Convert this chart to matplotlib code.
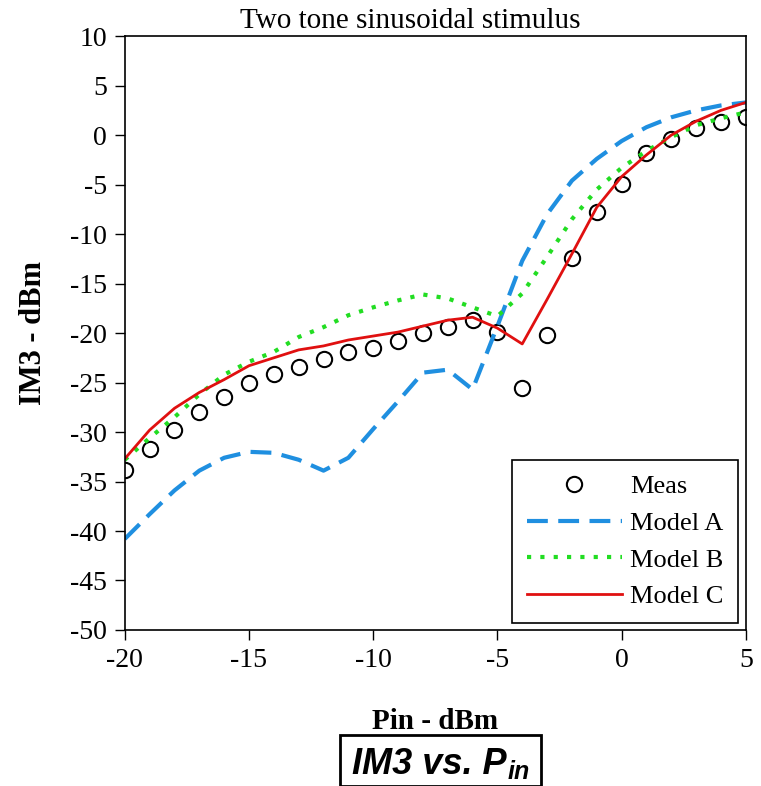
import numpy as np
import matplotlib
matplotlib.use("Agg")
import matplotlib.pyplot as plt

# Pin values (dBm)
pin = [-20, -19, -18, -17, -16, -15, -14, -13, -12, -11, -10, -9, -8,
       -7, -6, -5, -4, -3, -2, -1, 0, 1, 2, 3, 4, 5]

# measured IM3 (dBm)
meas = [-33.8, -31.7, -29.8, -28.0, -26.5, -25.0, -24.1, -23.4, -22.6, -21.9,
        -21.5, -20.8, -20.0, -19.4, -18.7, -19.9, -25.6, -20.2, -12.4, -7.8,
        -4.9, -1.8, -0.4, 0.7, 1.3, 1.8]

model_a = [-40.8, -38.3, -35.9, -33.9, -32.6, -32.0, -32.1, -32.8, -33.9, -32.6,
           -29.7, -26.9, -24.0, -23.7, -25.7, -19.3, -12.7, -8.0, -4.6, -2.4,
           -0.6, 0.8, 1.8, 2.5, 3.0, 3.3]

model_b = [-32.8, -30.6, -28.5, -26.2, -24.2, -22.9, -21.9, -20.4, -19.4, -18.2,
           -17.4, -16.7, -16.1, -16.5, -17.4, -18.3, -16.0, -12.3, -8.5, -5.5,
           -3.3, -1.6, -0.2, 1.0, 1.7, 2.3]

model_c = [-32.7, -29.8, -27.6, -26.0, -24.7, -23.3, -22.5, -21.7, -21.3, -20.7,
           -20.3, -19.9, -19.3, -18.7, -18.4, -19.5, -21.1, -16.6, -12.0, -7.3,
           -4.2, -2.0, 0.0, 1.4, 2.5, 3.3]

xticks = [-20, -15, -10, -5, 0, 5]
yticks = list(range(-50, 11, 5))

serif = ["Liberation Serif", "DejaVu Serif"]
sans = ["Liberation Sans Narrow", "Liberation Sans", "DejaVu Sans"]

fig = plt.figure(figsize=(7.61, 7.86), dpi=100)
ax = fig.add_axes([0.164, 0.1985, 0.816, 0.7555])

ax.plot(pin, meas, linestyle="none", marker="o", markersize=11,
        markerfacecolor="none", markeredgecolor="black", markeredgewidth=1.5,
        label="Meas")
ax.plot(pin, model_a, color="#1f8fe0", lw=3, dashes=(5, 2.5), label="Model A")
ax.plot(pin, model_b, color="#22dd22", lw=3, dashes=(1, 2.2), label="Model B")
ax.plot(pin, model_c, color="#e01010", lw=2, label="Model C")

ax.set_xlim(-20, 5)
ax.set_ylim(-50, 10)
ax.set_xticks(xticks)
ax.set_yticks(yticks)
ax.set_xticklabels([str(t) for t in xticks], family=serif, fontsize=20)
ax.set_yticklabels([str(t) for t in yticks], family=serif, fontsize=20)
ax.tick_params(direction="out", length=7, width=1, pad=6)
for sp in ax.spines.values():
    sp.set_linewidth(1.2)

ax.set_title("Two tone sinusoidal stimulus", family=serif, fontsize=21,
             x=0.46, pad=6)
ax.set_xlabel("Pin - dBm", family=serif, fontsize=21, fontweight="bold", labelpad=25)
ax.set_ylabel("IM3 - dBm", family=serif, fontsize=22, fontweight="bold", labelpad=16)

leg = ax.legend(loc="lower right", prop={"family": serif, "size": 19},
                handlelength=3.6, handletextpad=0.3, borderpad=0.55,
                labelspacing=0.5, fancybox=False, framealpha=1,
                edgecolor="black", borderaxespad=0,
                bbox_to_anchor=(0.987, 0.012))
leg.get_frame().set_linewidth(1.2)

# caption "IM3 vs. P_in" in a box below the chart
cap = fig.text(352 / 761, 1 - 774 / 786, "IM3 vs. P", ha="left", va="baseline",
               fontsize=26, fontweight="bold", style="italic", family=sans)
fig.canvas.draw()
bb = cap.get_window_extent()
fig.text((bb.x1 + 1) / 761, 1 - 779 / 786, "in", ha="left", va="baseline",
         fontsize=18, fontweight="bold", style="italic", family=sans)
box = plt.Rectangle((340 / 761, 0.0), 201 / 761, 51 / 786,
                    transform=fig.transFigure, fill=False,
                    edgecolor="black", lw=2)
fig.patches.append(box)

fig.savefig("out.png", dpi=100)
